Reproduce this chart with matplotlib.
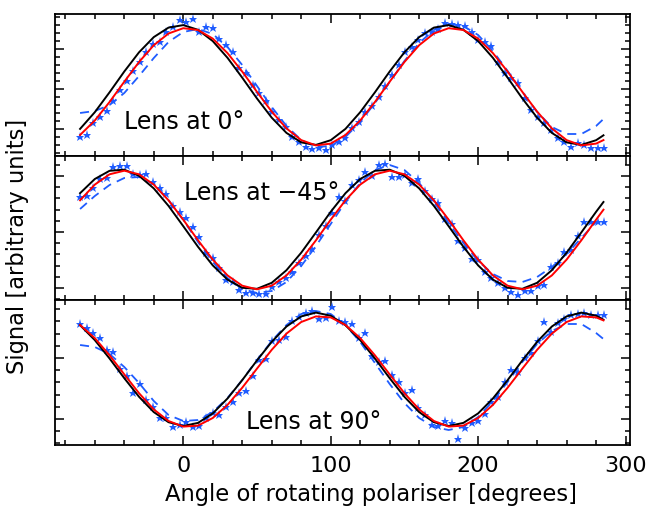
import numpy as np
import matplotlib.pyplot as plt
from matplotlib.ticker import FixedLocator, MultipleLocator

# angles (degrees)
ang_fit = list(range(-70, 281, 10)) + [285]
ang_obs = [-70 + 4.5 * k for k in range(80)]

# ---- lens at 0 deg ----
obs_0 = [17.7, 20, 31.7, 38.3, 44, 54.3, 65, 74.3, 84.3, 93.3, 103.3, 110.7, 113.3, 123.3, 127.7, 135, 133.3, 135.7,
         123.3, 128.3, 126.7, 115.7, 110, 103.3, 87.3, 81.7, 70, 62.3, 54, 43.3, 35, 27.7, 18.3, 13.3, 8.3, 6, 6.7, 5,
         10, 13.3, 17.3, 26.7, 33.3, 43.3, 49, 57.7, 69, 80, 90, 103.3, 108.3, 115, 121.7, 123.3, 125.7, 131.7, 131,
         130, 129, 122.7, 115, 113.3, 109, 93.3, 81.7, 76.7, 72.3, 56.7, 45, 37.7, 31.7, 25, 16.7, 13, 8.3, 12.3, 10,
         7.3, 7.3, 7.3]
black_0 = [26.1, 42.8, 62.7, 83.5, 102.7, 117.9, 127.4, 129.9, 125.2, 113.9, 97.2, 77.3, 56.5, 37.3, 22.1, 12.6, 10.1,
           14.8, 26.1, 42.8, 62.7, 83.5, 102.7, 117.9, 127.4, 129.9, 125.2, 113.9, 97.2, 77.3, 56.5, 37.3, 22.1, 12.6,
           10.1, 14.8, 19.7]
red_0 = [20.0, 34.5, 53.0, 73.3, 93.0, 109.8, 121.5, 126.8, 125.0, 116.4, 101.9, 83.4, 63.1, 43.4, 26.6, 14.9, 9.6,
         11.4, 20.0, 34.5, 53.0, 73.3, 93.0, 109.8, 121.5, 126.8, 125.0, 116.4, 101.9, 83.4, 63.1, 43.4, 26.6, 14.9,
         9.6, 11.4, 14.9]
dash_0 = [42, 44, 50, 62, 79, 97, 113, 123, 126, 121, 108, 90, 69, 48, 29, 15, 8, 9, 18, 33, 52, 73, 94, 112, 125,
          131, 129, 120, 104, 84, 63, 43, 28, 21, 21, 29, 36]

# ---- lens at -45 deg ----
obs_45 = [103.3, 104, 111.7, 120.7, 121.7, 133.3, 134, 134, 126, 125, 126, 118.3, 111.7, 106, 94, 88.3, 81.7, 73.3,
          62.7, 46.7, 41.7, 31.7, 20, 18.3, 10, 7.3, 6.7, 6, 6, 13.3, 18.3, 21.7, 28.3, 36.7, 44, 50.7, 65, 74, 86.7,
          102.7, 99.3, 115, 120, 128.3, 124, 135, 136, 123.3, 123.3, 125, 117.3, 120.7, 109.3, 100.7, 96.7, 80.7, 76,
          59.3, 51.7, 40.7, 40, 28.3, 21.7, 17.3, 12, 8.3, 5, 9.3, 9.3, 14, 15, 33.3, 36.7, 48.3, 50, 64, 78.3, 78.3,
          78.3, 78.3]
black_45 = [106.8, 121.0, 129.2, 130.3, 124.2, 111.6, 94.1, 73.8, 53.2, 34.6, 20.4, 12.2, 11.2, 17.2, 29.8, 47.3, 67.6,
            88.2, 106.8, 121.0, 129.2, 130.3, 124.2, 111.6, 94.1, 73.8, 53.2, 34.6, 20.4, 12.2, 11.2, 17.2, 29.8, 47.3,
            67.6, 88.2, 98.0]
red_45 = [99.7, 115.4, 125.7, 129.3, 125.7, 115.4, 99.7, 80.3, 59.7, 40.4, 24.6, 14.3, 10.7, 14.3, 24.6, 40.4, 59.7,
          80.3, 99.7, 115.4, 125.7, 129.3, 125.7, 115.4, 99.7, 80.3, 59.7, 40.4, 24.6, 14.3, 10.7, 14.3, 24.6, 40.4,
          59.7, 80.3, 90.3]
dash_45 = [91, 104, 115, 122, 123, 116, 100, 80, 58, 38, 22, 11, 7, 9, 18, 34, 54, 76, 98, 117, 130, 135, 130, 117, 98,
           77, 57, 39, 26, 19, 18, 23, 33, 46, 62, 78, None]

# ---- lens at 90 deg ----
obs_90 = [121, 116.7, 111.7, 106.7, 95, 93.3, 75.7, 69, 52.3, 61, 45, 38.3, 27.3, 27.3, 18.3, 20, 23.3, 18.3, 19, 27.3,
          32.3, 30, 38.3, 43.3, 51.7, 54.3, 69, 85, 85.7, 104.3, 105, 108.3, 124.3, 128, 132.3, 134.3, 125.7, 126.7,
          137.7, 124.3, 123.3, 121, 106.7, 112.3, 89, 83.3, 84.3, 70, 63.3, 52.3, 55, 36.7, 30, 20, 19, 24, 22.3, 5.7,
          17.3, 21.7, 24, 31, 43.3, 47.7, 63.3, 75, 73.3, 86.7, 92.3, 104.3, 123.3, 113.3, 121.7, 125.7, 130, 131,
          132.3, 130, 130, 130]
black_90 = [119.8, 104.9, 86.5, 66.8, 48.2, 32.9, 22.8, 19.0, 22.1, 31.6, 46.5, 64.9, 84.6, 103.2, 118.5, 128.6, 132.4,
            129.3, 119.8, 104.9, 86.5, 66.8, 48.2, 32.9, 22.8, 19.0, 22.1, 31.6, 46.5, 64.9, 84.6, 103.2, 118.5, 128.6,
            132.4, 129.3, 125.3]
red_90 = [120.0, 106.9, 89.7, 70.6, 51.8, 35.6, 24.0, 18.4, 19.4, 27.0, 40.1, 57.3, 76.4, 95.2, 111.4, 123.0, 128.6,
          127.6, 120.0, 106.9, 89.7, 70.6, 51.8, 35.6, 24.0, 18.4, 19.4, 27.0, 40.1, 57.3, 76.4, 95.2, 111.4, 123.0,
          128.6, 127.6, 124.6]
dash_90 = [100, 98, 91, 78, 62, 44, 30, 24, 25, 33, 47, 65, 85, 104, 120, 131, 134, 131, 120, 103, 82, 61, 42, 27, 18,
           15, 18, 28, 44, 63, 83, 101, 114, 121, 121, 112, 106]

labels = ["Lens at 0\u00b0", "Lens at \u221245\u00b0", "Lens at 90\u00b0"]

W, H = 647, 515
fig = plt.figure(figsize=(W / 100, H / 100), dpi=100)

# panel geometry in pixels: (top, bottom)
rows = [(14, 156), (156, 300), (300, 445)]
left, right = 55, 630
ylims = [(-1, 141), (0, 144), (0, 145)]
ymajor = [[26, 66, 106], [12, 68, 124], [26, 87]]
ystep = [8.0, 11.2, 12.2]
text_pos = [(0.224, 0.24), (0.36, 0.743), (0.45, 0.159)]

panels = [(obs_0, black_0, red_0, dash_0),
          (obs_45, black_45, red_45, dash_45),
          (obs_90, black_90, red_90, dash_90)]

blue = '#1f5cff'
for i, (obs, blk, red, dsh) in enumerate(panels):
    top, bot = rows[i]
    ax = fig.add_axes([left / W, 1 - bot / H, (right - left) / W, (bot - top) / H])
    ax.plot(ang_obs, obs, linestyle='none', marker='*', ms=6.5, mew=0, color=blue)
    d = np.array([np.nan if v is None else v for v in dsh], dtype=float)
    ax.plot(ang_fit, d, color=blue, lw=1.3, dashes=(5, 3.5))
    ax.plot(ang_fit, blk, color='black', lw=1.4)
    ax.plot(ang_fit, red, color='red', lw=1.4)

    ax.set_xlim(-87, 303)
    ax.set_ylim(*ylims[i])
    ax.xaxis.set_major_locator(MultipleLocator(100))
    ax.xaxis.set_minor_locator(MultipleLocator(20))
    ax.yaxis.set_major_locator(FixedLocator(ymajor[i]))
    lo = ymajor[i][0]
    while lo - ystep[i] > ylims[i][0]:
        lo -= ystep[i]
    ax.yaxis.set_minor_locator(FixedLocator(np.arange(lo, ylims[i][1], ystep[i])))
    ax.tick_params(which='both', direction='in', top=True, right=True, labelleft=False,
                   labelbottom=(i == 2), labelsize=16, pad=8, width=1.1)
    ax.tick_params(which='major', length=6.5)
    ax.tick_params(which='minor', length=3.8)
    for s in ax.spines.values():
        s.set_linewidth(1.3)
    ax.text(text_pos[i][0], text_pos[i][1], labels[i], transform=ax.transAxes,
            ha='center', va='center', fontsize=17)
    if i == 2:
        ax.set_xlabel("Angle of rotating polariser [degrees]", fontsize=16.3, labelpad=5)
        ax.xaxis.label.set_x((371 - left) / (right - left))

fig.text(18 / W, 1 - 246 / H, "Signal [arbitrary units]", rotation=90,
         ha='center', va='center', fontsize=16.3)

fig.savefig("out.png", dpi=100)
